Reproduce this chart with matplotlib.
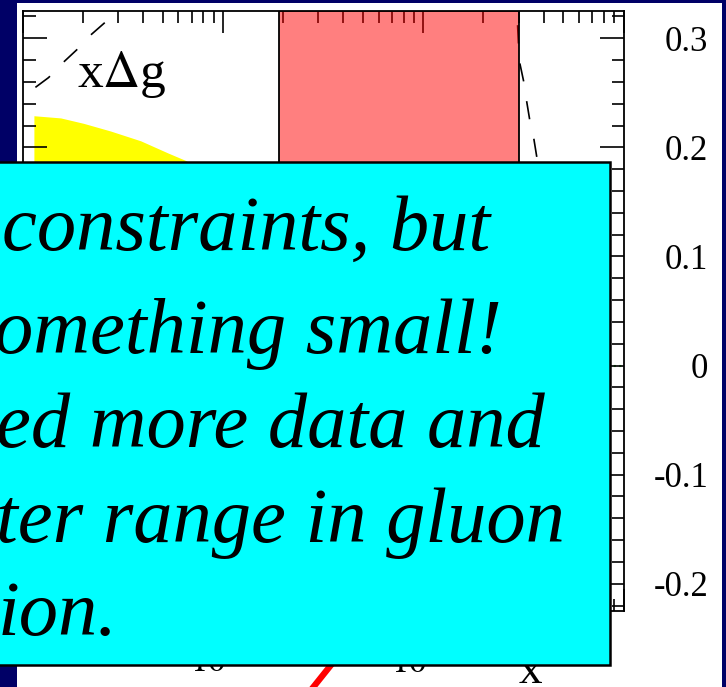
import matplotlib.pyplot as plt
from matplotlib.patches import Rectangle
from matplotlib.lines import Line2D
from matplotlib.ticker import FixedLocator, LogLocator, NullFormatter

plt.rcParams['font.family'] = ['Liberation Serif', 'DejaVu Serif']
plt.rcParams['mathtext.fontset'] = 'stix'

# dashed x*Delta g curve: piece rising at small x
curve_a_x = [1.16e-3, 1.35e-3, 1.60e-3, 1.88e-3, 2.19e-3, 2.60e-3, 2.95e-3]
curve_a_y = [0.255, 0.264, 0.278, 0.290, 0.303, 0.315, 0.330]
# dashed curve falling just right of the red band
curve_b_x = [0.296, 0.299, 0.303, 0.317, 0.328, 0.344, 0.356, 0.373, 0.389]
curve_b_y = [0.312, 0.295, 0.278, 0.261, 0.243, 0.220, 0.209, 0.186, 0.160]
# yellow uncertainty band (lower edge is hidden behind the text box)
band_x = [1.14e-3, 1.55e-3, 2.02e-3, 2.75e-3, 3.89e-3, 5.30e-3, 6.52e-3, 7.76e-3, 1.1e-2]
band_hi = [0.229, 0.227, 0.222, 0.215, 0.206, 0.195, 0.188, 0.180, 0.160]
band_lo = [0.05, 0.06, 0.07, 0.075, 0.08, 0.08, 0.08, 0.078, 0.07]
# x range covered by the red box
red_x = [0.019, 0.30]

y_ticks = [-0.2, -0.1, 0.0, 0.1, 0.2, 0.3]
y_labels = ['-0.2', '-0.1', '0', '0.1', '0.2', '0.3']
x_ticks = [1e-3, 1e-2, 1e-1, 1]
x_labels = ['', '$10^{-2}$', '$10^{-1}$', '']

box_lines = ['constraints, but', 'omething small!', 'ed more data and',
             'ter range in gluon', 'ion.']
box_x = [2, -6, -4, -4, -2]
box_base = [250, 353, 447, 542, 635]

W, H = 726, 687
NAVY = '#000066'


def fx(px):
    return px / W


def fy(py):
    return 1 - py / H


fig = plt.figure(figsize=(W / 100, H / 100), dpi=100, facecolor=NAVY)
fig.add_artist(Rectangle((fx(17), 0), fx(722) - fx(17), fy(3),
                         facecolor='white', edgecolor='none', zorder=-1))

ax = fig.add_axes([fx(22.5), fy(611), 601 / W, 600 / H])
ax.set_facecolor('white')
ax.set_xscale('log')
ax.set_xlim(1e-3, 1)
ax.set_ylim(-0.225, 0.325)

ax.fill_between(band_x, band_lo, band_hi, color='yellow', lw=0, zorder=1)
ax.axhline(0, color='#22cc22', ls=':', lw=1.5, zorder=1)
ax.plot(curve_a_x, curve_a_y, color='black', lw=1.2, ls=(0, (11, 12)))
ax.plot(curve_b_x, curve_b_y, color='black', lw=1.2, ls=(0, (11, 12)))
ax.axvspan(red_x[0], red_x[1], facecolor=(1, 0, 0, 0.5),
           edgecolor='black', lw=1.3, zorder=3)

ax.text(0.0907, 0.873, r'x$\Delta$g', transform=ax.transAxes,
        fontsize=37, va='baseline', ha='left')

for s in ax.spines.values():
    s.set_linewidth(1.3)

ax.xaxis.set_major_locator(FixedLocator(x_ticks))
ax.xaxis.set_minor_locator(LogLocator(base=10, subs=range(2, 10)))
ax.xaxis.set_minor_formatter(NullFormatter())
ax.set_xticklabels(x_labels)
ax.tick_params(axis='x', which='both', direction='in', top=True,
               bottom=True, width=1.2)
ax.tick_params(axis='x', which='major', length=16, labelsize=25, pad=26)
ax.tick_params(axis='x', which='minor', length=8.5)
ax.text(0.845, -0.12, 'x', transform=ax.transAxes, fontsize=34,
        ha='center', va='baseline')

ax.set_yticks(y_ticks)
ax.set_yticklabels(y_labels)
ax.set_yticks([v / 100 for v in range(-22, 33, 2)], minor=True)
ax.tick_params(axis='y', which='both', direction='in', left=True,
               right=True, labelleft=False, labelright=True, width=1.2)
ax.tick_params(axis='y', which='major', length=17, labelsize=25, pad=61)
ax.tick_params(axis='y', which='minor', length=9)
for t in ax.yaxis.get_major_ticks():
    t.label2.set_horizontalalignment('right')

# red stroke below the plot and the cyan comment box on top
fig.add_artist(Line2D([fx(347), fx(311)], [fy(645), fy(690)],
                      color='red', lw=4.5, zorder=1))
fig.add_artist(Rectangle((fx(-5), fy(665)), fx(610) - fx(-5),
                         fy(162) - fy(665), facecolor='#00ffff',
                         edgecolor='black', lw=1.8, zorder=5))
for line, x0, yb in zip(box_lines, box_x, box_base):
    fig.text(fx(x0), fy(yb), line, fontsize=56.5, style='italic',
             va='baseline', ha='left', zorder=6)

fig.savefig('out.png', dpi=100, facecolor=fig.get_facecolor())
